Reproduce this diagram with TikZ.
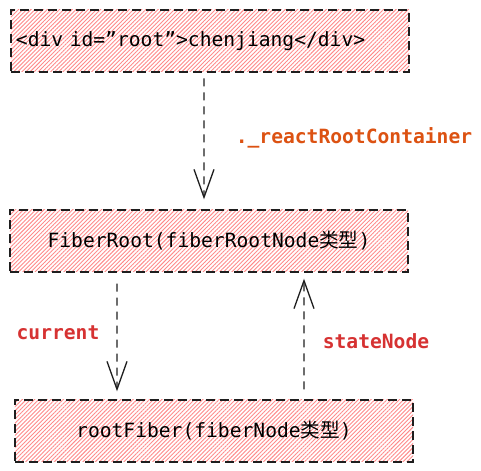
\documentclass[tikz,border=0pt]{standalone}
\usepackage{fontspec}
\setmainfont{DejaVu Sans Mono}[Ligatures=ResetAll]
\newfontfamily\cjk{Noto Sans CJK SC}
\usetikzlibrary{arrows.meta,patterns.meta}
\definecolor{ink}{HTML}{1E1E1E}
\definecolor{hatch}{HTML}{FF8A8A}
\definecolor{linkorange}{HTML}{DC5212}
\definecolor{linkred}{HTML}{D63232}
\tikzset{
  x=1bp, y=1bp,
  objbox/.style={draw=ink, line width=1.4bp, dash pattern=on 9bp off 5bp,
    pattern={Lines[angle=45,distance=2.9bp,line width=0.9bp]}, pattern color=hatch,
    minimum width=398bp, minimum height=62bp, inner sep=0pt,
    font=\fontsize{19.7}{23}\selectfont, text=black},
  ref/.style={draw=ink, line width=1.3bp, dash pattern=on 8bp off 6bp,
    -{Straight Barb[length=28bp,width=20bp,line width=1.3bp]}},
  reflabel/.style={font=\fontsize{19.7}{23}\selectfont\bfseries, inner sep=0pt}
}
\begin{document}
\begin{tikzpicture}
\useasboundingbox (0,0) rectangle (481,471);
% DOM container, FiberRoot and root fiber
\node[objbox, text width=388bp, inner xsep=5bp, align=left] (dom) at (210,430)
  {<div id=\symbol{34}root\symbol{34}>chenjiang</div>};
\node[objbox] (fr) at (209,230) {FiberRoot(fiberRootNode{\cjk 类型})};
\node[objbox] (rf) at (214,40) {rootFiber(fiberNode{\cjk 类型})};
% references between them
\draw[ref] ([xshift=-6bp,yshift=-6bp]dom.south) -- ([xshift=-5bp,yshift=10bp]fr.north);
\draw[ref] ([xshift=-92bp,yshift=-11bp]fr.south) -- ([xshift=-97bp,yshift=8bp]rf.north);
\draw[ref] ([xshift=90bp,yshift=10bp]rf.north) -- ([xshift=95bp,yshift=-6bp]fr.south);
% property names
\node[reflabel, text=linkorange] (lcont) at (354,333) {.\_reactRootContainer};
\node[reflabel, text=linkred] (lcur) at (58,138) {current};
\node[reflabel, text=linkred] (lstate) at (376,130) {stateNode};
\end{tikzpicture}
\end{document}
